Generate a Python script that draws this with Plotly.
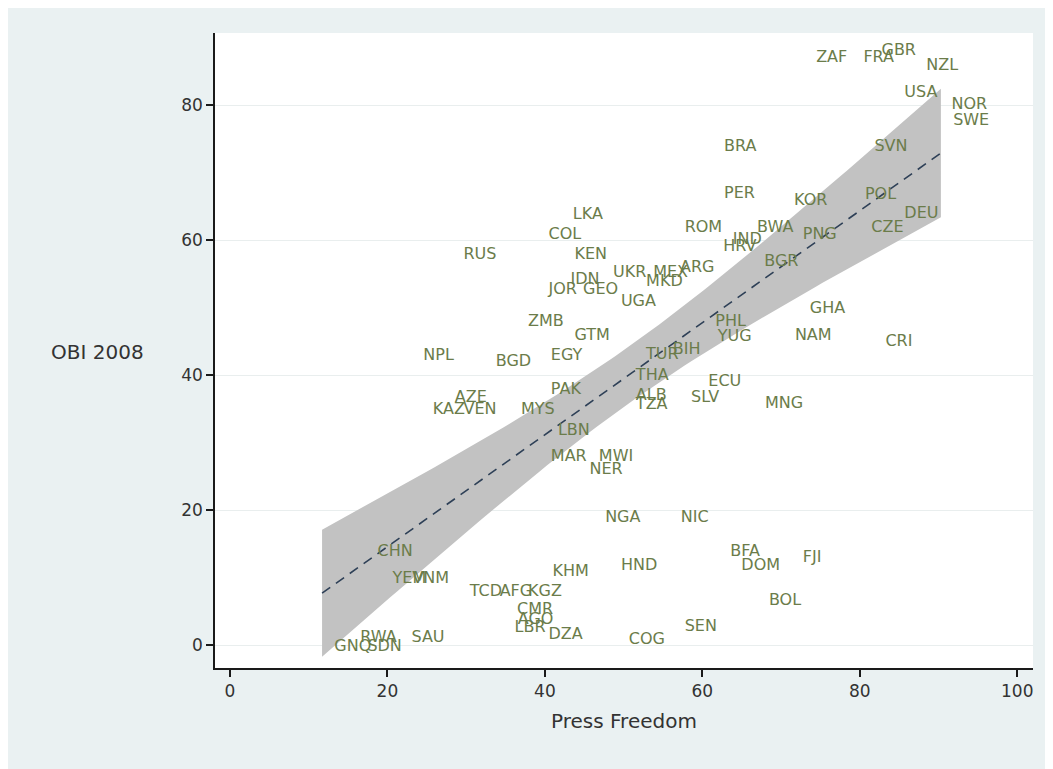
import numpy as np
import plotly.graph_objects as go

codes = ["ZAF","FRA","GBR","NZL","USA","NOR","SWE","BRA","SVN","PER","KOR","POL","DEU","CZE",
         "ROM","BWA","PNG","IND","HRV","BGR","LKA","COL","RUS","KEN","IDN","UKR","MEX","ARG",
         "MKD","JOR","GEO","UGA","ZMB","GTM","PHL","YUG","GHA","NAM","CRI","NPL","BGD","EGY",
         "TUR","BIH","THA","ECU","PAK","ALB","TZA","SLV","MNG","AZE","KAZ","VEN","MYS","LBN",
         "MAR","MWI","NER","NGA","NIC","CHN","YEM","VNM","TCD","AFG","KGZ","KHM","HND","BFA",
         "DOM","FJI","BOL","SEN","COG","CMR","AGO","LBR","DZA","RWA","GNQ","SDN","SAU"]
press_freedom = [72.9,78.9,81.2,86.9,84.1,90.1,90.3,61.2,80.3,61.2,70.1,79.1,84.1,79.9,
                 56.2,65.4,71.2,62.3,61.1,66.3,42.0,38.9,28.1,42.2,41.7,47.1,52.2,55.6,
                 51.3,38.9,43.3,48.1,36.3,42.2,60.1,60.4,72.1,70.2,81.7,23.0,32.2,39.2,
                 51.3,54.7,50.0,59.2,39.2,50.0,50.0,57.0,66.4,27.0,24.2,28.1,35.4,40.1,
                 39.2,45.3,44.1,46.1,55.7,17.2,19.1,21.6,28.9,32.7,36.3,39.4,48.1,62.0,
                 63.4,71.2,66.9,56.2,49.1,34.9,35.0,34.6,38.9,15.0,11.7,15.9,21.5]
obi_2008 = [87.0,87.0,88.0,85.8,81.8,80.0,77.6,73.8,73.8,66.8,65.8,66.7,63.9,61.8,
            61.8,61.8,60.7,60.0,59.0,56.7,63.7,60.7,57.8,57.8,54.1,55.1,55.1,55.9,
            53.8,52.6,52.6,50.8,47.9,45.8,47.9,45.6,49.8,45.8,44.9,42.8,41.9,42.8,
            43.0,43.7,39.9,39.0,37.8,36.9,35.6,36.6,35.7,36.6,34.8,34.8,34.8,31.7,
            27.9,27.9,25.9,18.8,18.8,13.8,9.8,9.8,7.9,7.9,7.9,10.8,11.7,13.8,
            11.7,12.9,6.5,2.7,0.7,5.2,3.7,2.5,1.5,1.0,-0.3,-0.3,1.0]

x_ticks = [0, 20, 40, 60, 80, 100]
y_ticks = [0, 20, 40, 60, 80]

# linear fit with 95% confidence interval (as in Stata's lfitci)
x = np.array(press_freedom)
y = np.array(obi_2008)
n = len(x)
b1, b0 = np.polyfit(x, y, 1)
resid = y - (b0 + b1 * x)
s = np.sqrt(np.sum(resid ** 2) / (n - 2))
xbar = x.mean()
sxx = np.sum((x - xbar) ** 2)
t_crit = 1.988
xg = np.linspace(x.min(), x.max(), 100)
yg = b0 + b1 * xg
half = t_crit * s * np.sqrt(1.0 / n + (xg - xbar) ** 2 / sxx)
upper = yg + half
lower = yg - half

fig = go.Figure()
fig.add_trace(go.Scatter(
    x=np.concatenate([xg, xg[::-1]]), y=np.concatenate([upper, lower[::-1]]),
    fill="toself", fillcolor="#c2c2c2", line=dict(width=0), mode="lines",
    hoverinfo="skip", showlegend=False))
fig.add_trace(go.Scatter(
    x=xg, y=yg, mode="lines", line=dict(color="#2e4057", width=1.6, dash="10px,7px"),
    showlegend=False))
fig.add_trace(go.Scatter(
    x=press_freedom, y=obi_2008, mode="markers+text", text=codes,
    textposition="middle right",
    marker=dict(size=18, color="rgba(0,0,0,0)"),
    textfont=dict(family="DejaVu Sans", size=16, color="#6b7c4a"),
    showlegend=False))

# the page body adds an 8px margin; the figure is sized to fill the rest
W, H = 1045, 761
L, R, T, B = 207, 20, 25, 101
pw, ph = W - L - R, H - T - B
def px_x(p):
    return (p - 8 - L) / pw
def px_y(p):
    return 1 - (p - 8 - T) / ph

fig.update_layout(
    width=W, height=H,
    margin=dict(l=L, r=R, t=T, b=B),
    paper_bgcolor="#eaf1f2", plot_bgcolor="white",
    font=dict(family="DejaVu Sans", color="#333333"),
    xaxis=dict(range=[-1.9, 102.0], tickvals=x_ticks, showgrid=False, zeroline=False,
               showline=True, linecolor="#1a1a1a", linewidth=1.5, ticks="outside",
               ticklen=7, tickwidth=1.5, tickcolor="#1a1a1a",
               tickfont=dict(size=17, color="#333333"),
               title=dict(text="Press Freedom", font=dict(size=20, color="#333333"), standoff=14)),
    yaxis=dict(range=[-3.4, 90.7], tickvals=y_ticks, showgrid=True, gridcolor="#e9eeee",
               gridwidth=1, zeroline=False, showline=True, linecolor="#1a1a1a",
               linewidth=1.5, ticks="outside", ticklen=7, tickwidth=1.5,
               tickcolor="#1a1a1a", tickfont=dict(size=17, color="#333333")),
    annotations=[dict(text="OBI 2008", xref="paper", yref="paper", x=px_x(97),
                      y=px_y(352), showarrow=False, xanchor="center", yanchor="middle",
                      font=dict(size=20, color="#333333"))],
)

fig.write_html("out.html")
